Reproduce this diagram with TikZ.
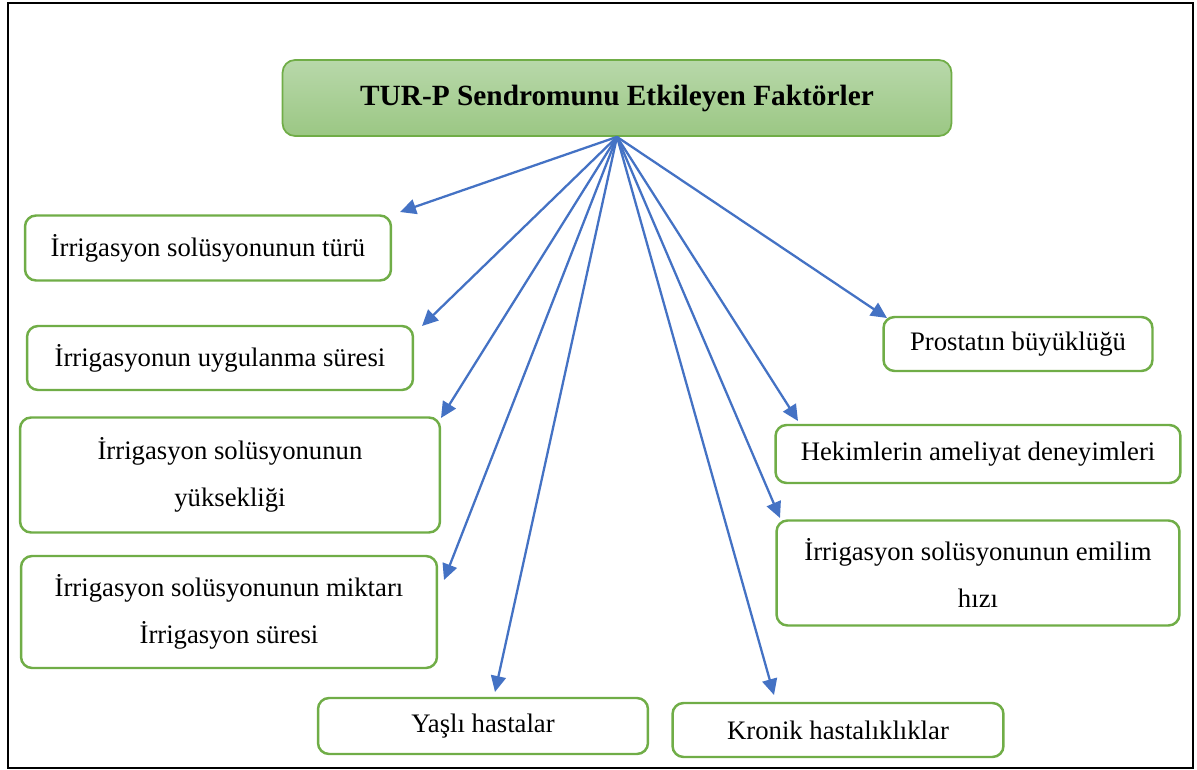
\documentclass[tikz,border=0pt]{standalone}
\usepackage{fontspec}
\setmainfont{Liberation Serif}
\usetikzlibrary{arrows.meta}
\definecolor{boxgreen}{HTML}{70AD47}
\definecolor{titletop}{HTML}{B8D8AA}
\definecolor{titlebot}{HTML}{9BC784}
\definecolor{arrowblue}{HTML}{4472C4}
\begin{document}
\begin{tikzpicture}[
    x=0.02cm, y=-0.02cm,
    factor/.style={rectangle, draw=boxgreen, line width=1.4pt, rounded corners=0.22cm,
                   fill=white, align=center, inner sep=0pt,
                   font=\fontsize{15.2}{27}\selectfont},
    head/.style={rectangle, draw=boxgreen, line width=1pt, rounded corners=0.25cm,
                 top color=titletop, bottom color=titlebot, inner sep=0pt,
                 minimum width=13.38cm, minimum height=1.52cm,
                 font=\fontsize{16.7}{20}\selectfont\bfseries},
    link/.style={-{Triangle[length=0.32cm, width=0.3cm]}, draw=arrowblue,
                 line width=1.3pt}
]
    \useasboundingbox (0,0) rectangle (1197,770);
    \draw[line width=1.1pt] (8,3) rectangle (1193,768);

    % title
    \node[head] (title) at (617,98) {TUR-P Sendromunu Etkileyen Faktörler};

    % left column
    \node[factor, minimum width=7.32cm, minimum height=1.3cm] (tur) at (208,248)
        {İrrigasyon solüsyonunun türü};
    \node[factor, minimum width=7.72cm, minimum height=1.28cm] (uygulanma) at (220,358)
        {İrrigasyonun uygulanma süresi};
    \node[factor, minimum width=8.4cm, minimum height=2.3cm] (yukseklik) at (230,475)
        {İrrigasyon solüsyonunun\\yüksekliği};
    \node[factor, minimum width=8.32cm, minimum height=2.24cm] (miktar) at (229,612)
        {İrrigasyon solüsyonunun miktarı\\İrrigasyon süresi};

    % bottom row
    \node[factor, minimum width=6.6cm, minimum height=1.12cm] (yasli) at (483,726)
        {Yaşlı hastalar};
    \node[factor, minimum width=6.62cm, minimum height=1.08cm] (kronik) at (838,730)
        {Kronik hastalıklıklar};

    % right column
    \node[factor, minimum width=5.38cm, minimum height=1.08cm] (prostat) at (1018,344)
        {Prostatın büyüklüğü};
    \node[factor, minimum width=8.1cm, minimum height=1.16cm] (hekim) at (978,454)
        {Hekimlerin ameliyat deneyimleri};
    \node[factor, minimum width=8.06cm, minimum height=2.1cm] (emilim) at (978,573)
        {İrrigasyon solüsyonunun emilim\\hızı};

    % arrow tips
    \coordinate (t1) at (400,212);
    \coordinate (t2) at (422,326);
    \coordinate (t3) at (441,418);
    \coordinate (t4) at (444,580);
    \coordinate (t5) at (495,692);
    \coordinate (t6) at (774,695);
    \coordinate (t7) at (780,518);
    \coordinate (t8) at (798,421);
    \coordinate (t9) at (887,318);

    \foreach \t in {t1,t2,t3,t4,t5,t6,t7,t8,t9}
        \draw[link] (title.south) -- (\t);
\end{tikzpicture}
\end{document}
